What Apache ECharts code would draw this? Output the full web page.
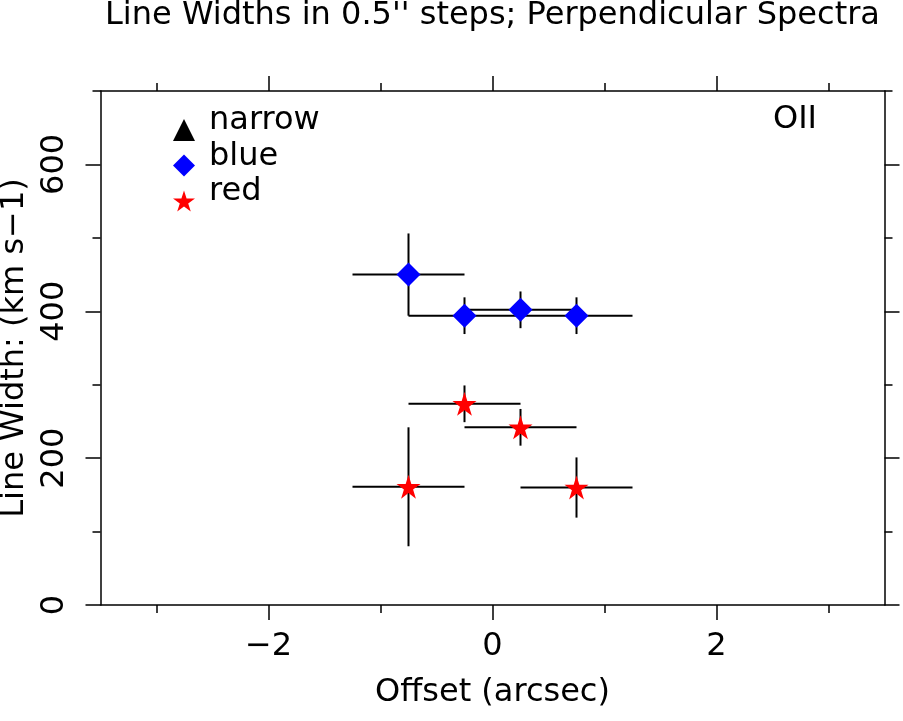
<!DOCTYPE html>
<html>
<head>
<meta charset="utf-8">
<script src="https://cdn.jsdelivr.net/npm/echarts@6/dist/echarts.min.js"></script>
<style>
  html, body { margin: 0; padding: 0; background: #fff; }
  #main { width: 903px; height: 721px; }
</style>
</head>
<body>
<div id="main"></div>
<script>
// offsets in arcsec, widths in km/s
const blueX = [-0.75, -0.25, 0.25, 0.75];
const blueY = [450, 394, 402, 394];
const blueXErr = [0.5, 0.5, 0.5, 0.5];
const blueYErr = [56, 25, 25, 25];

const redX = [-0.75, -0.25, 0.25, 0.75];
const redY = [161, 274, 242, 160];
const redXErr = [0.5, 0.5, 0.5, 0.5];
const redYErr = [81, 25, 25, 41];

const xMajor = [-2, 0, 2];
const xMinor = [-3, -1, 1, 3];
const yMajor = [0, 200, 400, 600];
const yMinor = [100, 300, 500, 700];

const FONT = 'DejaVu Sans';
const FS = 32;
const STAR = 'path://M50,0 L61.2,34.5 L97.6,34.5 L68.2,55.9 L79.4,90.5 L50,69.1 L20.6,90.5 L31.8,55.9 L2.4,34.5 L38.8,34.5 Z';

const chart = echarts.init(document.getElementById('main'));

function rows(xs, ys, xe, ye) {
  return xs.map((x, i) => [x, ys[i], xe[i], ye[i]]);
}
function pts(xs, ys) {
  return xs.map((x, i) => [x, ys[i]]);
}

// error bars: horizontal + vertical line per point
function renderBars(params, api) {
  const x = api.value(0), y = api.value(1), dx = api.value(2), dy = api.value(3);
  const l = api.coord([x - dx, y]), r = api.coord([x + dx, y]);
  const t = api.coord([x, y + dy]), b = api.coord([x, y - dy]);
  const st = { stroke: '#000', lineWidth: 2 };
  return {
    type: 'group',
    children: [
      { type: 'line', shape: { x1: l[0], y1: l[1], x2: r[0], y2: r[1] }, style: st },
      { type: 'line', shape: { x1: t[0], y1: t[1], x2: b[0], y2: b[1] }, style: st }
    ]
  };
}

const minus = v => String(v).replace('-', '\u2212');
const lineSt = { color: '#000', width: 1.5 };

function xAx(pos, vals, len, withLine, withLabel) {
  return {
    type: 'value', position: pos, min: -3.5, max: 3.5,
    axisLine: { show: withLine, onZero: false, lineStyle: lineSt },
    axisTick: { show: true, customValues: vals, length: len, lineStyle: lineSt },
    axisLabel: withLabel
      ? { show: true, customValues: vals, formatter: minus, color: '#000', fontSize: FS, fontFamily: FONT, margin: 26 }
      : { show: false },
    splitLine: { show: false }
  };
}
function yAx(pos, vals, len, withLine, withLabel) {
  return {
    type: 'value', position: pos, min: 0, max: 700,
    axisLine: { show: withLine, onZero: false, lineStyle: lineSt },
    axisTick: { show: true, customValues: vals, length: len, lineStyle: lineSt },
    axisLabel: withLabel
      ? { show: true, customValues: vals, rotate: 90, color: '#000', fontSize: FS, fontFamily: FONT, margin: 30 }
      : { show: false },
    splitLine: { show: false }
  };
}

const xAxes = [
  xAx('bottom', xMajor, 15, true, true),
  xAx('bottom', xMinor, 8, false, false),
  xAx('top', xMajor, 15, true, false),
  xAx('top', xMinor, 8, false, false)
];
xAxes[0].name = 'Offset (arcsec)';
xAxes[0].nameLocation = 'middle';
xAxes[0].nameGap = 71.5;
xAxes[0].nameTextStyle = { color: '#000', fontSize: FS, fontFamily: FONT };

const yAxes = [
  yAx('left', yMajor, 15, true, true),
  yAx('left', yMinor, 8, false, false),
  yAx('right', yMajor, 15, true, false),
  yAx('right', yMinor, 8, false, false)
];
yAxes[0].name = 'Line Width: (km s\u22121)';
yAxes[0].nameLocation = 'middle';
yAxes[0].nameGap = 64.5;
yAxes[0].nameTextStyle = { color: '#000', fontSize: FS, fontFamily: FONT };

chart.setOption({
  animation: false,
  backgroundColor: '#fff',
  textStyle: { fontFamily: FONT },
  grid: { left: 100.5, right: 18.5, top: 91, bottom: 116, containLabel: false, outerBoundsMode: 'none' },
  graphic: [
    {
      type: 'text', x: 492.5, y: 15.5,
      style: {
        text: 'Line Widths in 0.5\'\' steps; Perpendicular Spectra', fill: '#000',
        font: FS + 'px "' + FONT + '"', align: 'center', verticalAlign: 'middle'
      }
    },
    {
      type: 'text', x: 817, y: 119.5,
      style: {
        text: 'OII', fill: '#000',
        font: FS + 'px "' + FONT + '"', align: 'right', verticalAlign: 'middle'
      }
    }
  ],
  legend: {
    orient: 'vertical', left: 173, top: 105, padding: 0,
    itemWidth: 22, itemHeight: 22, itemGap: -14.5,
    data: ['narrow', 'blue', 'red'],
    formatter: '{t|{name}}',
    textStyle: {
      color: '#000', fontSize: FS, fontFamily: FONT,
      rich: { t: { color: '#000', fontSize: FS, fontFamily: FONT, lineHeight: 22, padding: [0, 0, 18, 9] } }
    }
  },
  xAxis: xAxes,
  yAxis: yAxes,
  series: [
    {
      type: 'custom', name: 'blueErr', xAxisIndex: 0, yAxisIndex: 0,
      renderItem: renderBars, encode: { x: 0, y: 1 }, z: 1,
      data: rows(blueX, blueY, blueXErr, blueYErr)
    },
    {
      type: 'custom', name: 'redErr', xAxisIndex: 0, yAxisIndex: 0,
      renderItem: renderBars, encode: { x: 0, y: 1 }, z: 1,
      data: rows(redX, redY, redXErr, redYErr)
    },
    {
      type: 'scatter', name: 'narrow', symbol: 'triangle', symbolSize: 22,
      itemStyle: { color: '#000', opacity: 1 }, data: []
    },
    {
      type: 'scatter', name: 'blue', symbol: 'diamond', symbolSize: 24, z: 3,
      itemStyle: { color: '#0000ff', opacity: 1 }, data: pts(blueX, blueY)
    },
    {
      type: 'scatter', name: 'red', symbol: STAR, symbolSize: 24, z: 3,
      itemStyle: { color: '#ff0000', opacity: 1 }, data: pts(redX, redY)
    }
  ]
});
</script>
</body>
</html>
